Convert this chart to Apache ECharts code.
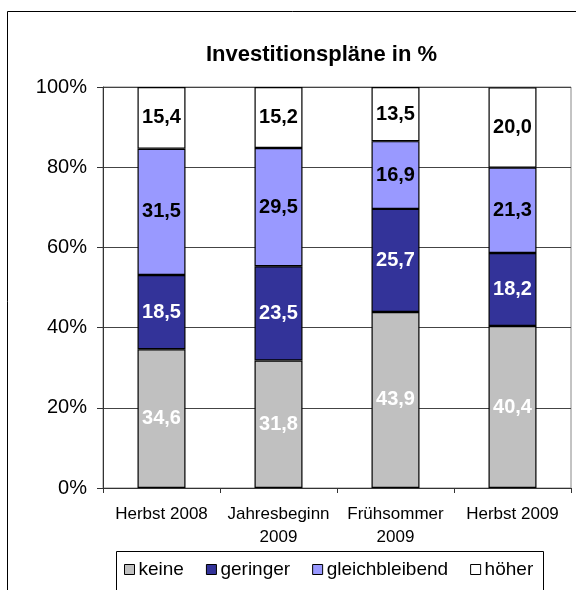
<!DOCTYPE html>
<html>
<head>
<meta charset="utf-8">
<script src="https://cdn.jsdelivr.net/npm/echarts@6/dist/echarts.min.js"></script>
<style>html,body{margin:0;padding:0;background:#fff}#c{width:576px;height:590px}</style>
</head>
<body>
<div id="c"></div>
<script>
const categories = ['Herbst 2008', 'Jahresbeginn\n2009', 'Frühsommer\n2009', 'Herbst 2009'];
const keine = [34.6, 31.8, 43.9, 40.4];
const geringer = [18.5, 23.5, 25.7, 18.2];
const gleichbleibend = [31.5, 29.5, 16.9, 21.3];
const hoeher = [15.4, 15.2, 13.5, 20.0];
const seriesNames = ['keine', 'geringer', 'gleichbleibend', 'höher'];
const yTicks = [0, 20, 40, 60, 80, 100];

const FF = '"Liberation Sans", Arial, sans-serif';
const chart = echarts.init(document.getElementById('c'), null, {renderer: 'canvas'});
const fmt = p => p.value.toFixed(1).replace('.', ',');
function mk(name, data, color, labelColor) {
  return {
    name: name, type: 'bar', stack: 'all', data: data, barWidth: 48,
    itemStyle: {color: color, borderColor: '#000', borderWidth: 1.2},
    label: {show: true, position: 'inside', formatter: fmt, color: labelColor,
      fontFamily: FF, fontSize: 20, fontWeight: 'bold'},
    emphasis: {disabled: true}
  };
}
chart.setOption({
  animation: false,
  backgroundColor: '#fff',
  title: {text: 'Investitionspläne in %', left: 201, top: 39,
    textStyle: {fontFamily: FF, fontSize: 22, fontWeight: 'bold', color: '#000'}},
  graphic: [
    {type: 'rect', shape: {x: 7.5, y: 11.5, width: 700, height: 700}, style: {fill: 'none', stroke: '#000', lineWidth: 1}, z: 0},
    {type: 'rect', shape: {x: 116.5, y: 551.5, width: 427, height: 60}, style: {fill: 'none', stroke: '#000', lineWidth: 1}, z: 0}
  ],
  legend: {
    data: seriesNames, left: 119, top: 555, itemWidth: 10, itemHeight: 10, itemGap: 22,
    icon: 'rect',
    textStyle: {fontFamily: FF, fontSize: 19, color: '#000', padding: [0, 0, 0, -1]},
    itemStyle: {borderColor: '#000', borderWidth: 1}
  },
  grid: {left: 103, top: 87, right: 5, bottom: 102, show: true, borderColor: '#888', borderWidth: 1},
  xAxis: {
    type: 'category', data: categories,
    axisLine: {lineStyle: {color: '#333', width: 1}},
    axisTick: {show: true, length: 5, lineStyle: {color: '#333'}},
    axisLabel: {fontFamily: FF, fontSize: 17, color: '#000', margin: 15, lineHeight: 23, interval: 0}
  },
  yAxis: {
    type: 'value', min: yTicks[0], max: yTicks[yTicks.length - 1], interval: 20,
    axisLine: {show: true, lineStyle: {color: '#333', width: 1}},
    axisTick: {show: true, length: 6, lineStyle: {color: '#333'}},
    axisLabel: {formatter: '{value}%', fontFamily: FF, fontSize: 20, color: '#000', margin: 16},
    splitLine: {lineStyle: {color: '#444', width: 1}}
  },
  series: [
    mk(seriesNames[0], keine, '#C0C0C0', '#fff'),
    mk(seriesNames[1], geringer, '#333399', '#fff'),
    mk(seriesNames[2], gleichbleibend, '#9999FF', '#000'),
    mk(seriesNames[3], hoeher, '#FFFFFF', '#000')
  ]
});
</script>
</body>
</html>
